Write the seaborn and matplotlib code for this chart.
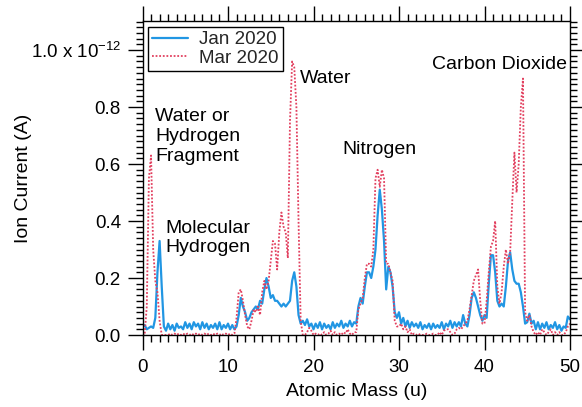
import numpy as np
import pandas as pd
import matplotlib
matplotlib.use("Agg")
import matplotlib.pyplot as plt
import seaborn as sns
from matplotlib.ticker import MultipleLocator, FuncFormatter

# ---------------- data ----------------
mass = np.arange(0, 50.001, 0.25)

jan_2020 = [
    0.030, 0.035, 0.020, 0.025,
    0.030, 0.025, 0.060, 0.220,
    0.330, 0.170, 0.030, 0.015,
    0.040, 0.020, 0.035, 0.015,
    0.040, 0.025, 0.030, 0.020,
    0.045, 0.025, 0.040, 0.020,
    0.045, 0.030, 0.040, 0.020,
    0.045, 0.025, 0.040, 0.020,
    0.035, 0.025, 0.040, 0.020,
    0.045, 0.020, 0.035, 0.025,
    0.040, 0.020, 0.035, 0.020,
    0.030, 0.070, 0.130, 0.100,
    0.080, 0.050, 0.060, 0.080,
    0.090, 0.100, 0.090, 0.120,
    0.110, 0.160, 0.200, 0.170,
    0.130, 0.140, 0.120, 0.120,
    0.110, 0.100, 0.110, 0.100,
    0.110, 0.120, 0.190, 0.220,
    0.170, 0.070, 0.040, 0.050,
    0.035, 0.055, 0.030, 0.040,
    0.020, 0.040, 0.025, 0.045,
    0.020, 0.040, 0.025, 0.035,
    0.020, 0.045, 0.025, 0.040,
    0.030, 0.050, 0.025, 0.040,
    0.030, 0.050, 0.030, 0.045,
    0.040, 0.100, 0.130, 0.110,
    0.170, 0.220, 0.220, 0.200,
    0.240, 0.300, 0.420, 0.510,
    0.440, 0.330, 0.160, 0.240,
    0.220, 0.170, 0.080, 0.060,
    0.080, 0.040, 0.060, 0.030,
    0.050, 0.025, 0.045, 0.030,
    0.040, 0.025, 0.045, 0.020,
    0.035, 0.025, 0.040, 0.020,
    0.040, 0.025, 0.035, 0.025,
    0.045, 0.020, 0.040, 0.030,
    0.050, 0.025, 0.045, 0.030,
    0.045, 0.030, 0.070, 0.040,
    0.030, 0.070, 0.130, 0.150,
    0.130, 0.100, 0.070, 0.050,
    0.070, 0.060, 0.180, 0.280,
    0.280, 0.220, 0.120, 0.100,
    0.110, 0.100, 0.170, 0.260,
    0.290, 0.230, 0.190, 0.180,
    0.180, 0.150, 0.100, 0.040,
    0.045, 0.075, 0.040, 0.050,
    0.020, 0.045, 0.020, 0.040,
    0.025, 0.045, 0.020, 0.035,
    0.025, 0.045, 0.020, 0.035,
    0.015, 0.030, 0.025, 0.065,
    0.055,
]

mar_2020 = [
    0.000, 0.000, 0.100, 0.550,
    0.630, 0.300, 0.190, 0.150,
    0.050, 0.000, 0.000, 0.000,
    0.000, 0.005, 0.000, 0.005,
    0.000, 0.005, 0.000, 0.005,
    0.000, 0.005, 0.000, 0.005,
    0.000, 0.005, 0.000, 0.005,
    0.000, 0.005, 0.000, 0.005,
    0.000, 0.005, 0.000, 0.005,
    0.000, 0.005, 0.000, 0.005,
    0.000, 0.005, 0.000, 0.005,
    0.060, 0.150, 0.160, 0.120,
    0.070, 0.030, 0.020, 0.050,
    0.090, 0.080, 0.100, 0.070,
    0.150, 0.190, 0.160, 0.190,
    0.260, 0.330, 0.320, 0.230,
    0.360, 0.430, 0.380, 0.360,
    0.270, 0.750, 0.960, 0.940,
    0.800, 0.400, 0.050, 0.000,
    0.000, 0.010, 0.025, 0.015,
    0.000, 0.005, 0.000, 0.005,
    0.000, 0.010, 0.000, 0.005,
    0.015, 0.000, 0.010, 0.000,
    0.005, 0.000, 0.010, 0.005,
    0.020, 0.005, 0.000, 0.010,
    0.010, 0.090, 0.110, 0.130,
    0.200, 0.250, 0.250, 0.240,
    0.300, 0.550, 0.580, 0.520,
    0.580, 0.550, 0.250, 0.250,
    0.220, 0.190, 0.050, 0.030,
    0.030, 0.040, 0.020, 0.030,
    0.010, 0.020, 0.000, 0.005,
    0.000, 0.005, 0.000, 0.000,
    0.000, 0.005, 0.000, 0.000,
    0.005, 0.000, 0.000, 0.010,
    0.000, 0.015, 0.020, 0.020,
    0.010, 0.000, 0.005, 0.020,
    0.025, 0.020, 0.030, 0.040,
    0.050, 0.090, 0.140, 0.190,
    0.210, 0.230, 0.120, 0.040,
    0.040, 0.120, 0.220, 0.310,
    0.330, 0.400, 0.170, 0.110,
    0.150, 0.240, 0.300, 0.250,
    0.290, 0.470, 0.640, 0.500,
    0.600, 0.800, 0.900, 0.080,
    0.050, 0.070, 0.030, 0.010,
    0.000, 0.010, 0.000, 0.020,
    0.010, 0.000, 0.010, 0.020,
    0.000, 0.010, 0.000, 0.010,
    0.000, 0.000, 0.010, 0.030,
    0.040,
]

series_names = ["Jan 2020", "Mar 2020"]
annotations = [
    ("Water or\nHydrogen\nFragment", 1.46, 0.795),
    ("Molecular\nHydrogen", 2.63, 0.405),
    ("Water", 18.44, 0.93),
    ("Nitrogen", 23.36, 0.68),
    ("Carbon Dioxide", 33.9, 0.98),
]

df = pd.DataFrame({
    "mass": np.concatenate([mass, mass]),
    "current": np.concatenate([jan_2020, mar_2020]),
    "series": [series_names[0]] * len(mass) + [series_names[1]] * len(mass),
})

# ---------------- style ----------------
sns.set_style("ticks")
plt.rcParams["font.family"] = ["Liberation Sans", "DejaVu Sans"]
plt.rcParams["mathtext.default"] = "regular"

fig = plt.figure(figsize=(5.82, 4.07), dpi=100)
ax = fig.add_axes([142.5 / 582, 72 / 407, 427.5 / 582, 314 / 407])

blue = "#2196e3"
red = "#e2405f"

sns.lineplot(data=df[df.series == series_names[0]], x="mass", y="current",
             color=blue, lw=1.6, ax=ax, label=series_names[0])
sns.lineplot(data=df[df.series == series_names[1]], x="mass", y="current",
             color=red, lw=1.3, ax=ax, label=series_names[1])
ax.lines[1].set_dashes([1, 1])

ax.set_xlim(0, 50)
ax.set_ylim(0, 1.102)

ax.xaxis.set_major_locator(MultipleLocator(10))
ax.xaxis.set_minor_locator(MultipleLocator(1))
ax.yaxis.set_major_locator(MultipleLocator(0.2))
ax.yaxis.set_minor_locator(MultipleLocator(0.02))

def yfmt(v, pos):
    if abs(v - 1.0) < 1e-6:
        return "1.0 x 10$^{-12}$"
    return f"{v:.1f}"
ax.yaxis.set_major_formatter(FuncFormatter(yfmt))

for s in ax.spines.values():
    s.set_visible(True)
    s.set_color("black")
    s.set_linewidth(1.0)

ax.tick_params(which="both", direction="out", top=True, right=True,
               labeltop=False, labelright=False, color="black", width=1.0,
               labelsize=13.5, labelcolor="black")
ax.tick_params(axis="x", which="major", length=10.5, pad=7)
ax.tick_params(axis="y", which="major", length=10.5, pad=5)
ax.tick_params(which="minor", length=5)

ax.set_xlabel("Atomic Mass (u)", fontsize=14, color="black", labelpad=5)
ax.set_ylabel("Ion Current (A)", fontsize=14, color="black")
ax.yaxis.set_label_coords(-0.258, 0.5)

for txt, x, y in annotations:
    ax.text(x, y, txt, fontsize=14, ha="left", va="top", color="black",
            linespacing=1.2)

leg = ax.legend(loc="upper left", bbox_to_anchor=(0.012, 0.982), fontsize=13.5,
                frameon=True, fancybox=False, handlelength=1.9,
                borderpad=0.25, labelspacing=0.05, handletextpad=0.6,
                borderaxespad=0)
leg.get_frame().set_edgecolor("black")
leg.get_frame().set_linewidth(1.0)
leg.get_frame().set_alpha(1)

fig.savefig("out.png", dpi=100)
